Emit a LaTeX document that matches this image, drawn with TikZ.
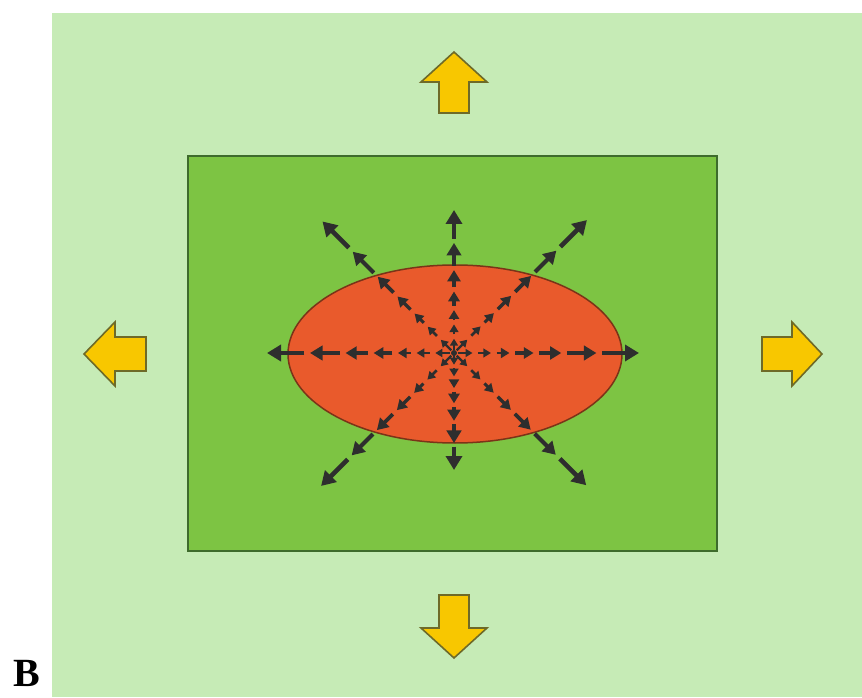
\documentclass[tikz,border=0pt]{standalone}
\usepackage{fontspec}
\setmainfont{Liberation Serif}
\usetikzlibrary{arrows.meta,calc}
\definecolor{bglight}{HTML}{C6EBB6}
\definecolor{boxgreen}{HTML}{7DC443}
\definecolor{boxedge}{HTML}{3E6B2C}
\definecolor{ovalfill}{HTML}{E95A2C}
\definecolor{ovaledge}{HTML}{7A3418}
\definecolor{raycol}{HTML}{2E2E2E}
\definecolor{yel}{HTML}{F8C700}
\definecolor{yeledge}{HTML}{6E6A28}
\tikzset{
  ray/.style={draw=raycol},
  blockarrow/.style={fill=yel,draw=yeledge,line width=1.6pt,line join=miter},
}
\begin{document}
\begin{tikzpicture}[x=1pt,y=1pt]
\useasboundingbox (0,0) rectangle (862,697);
\fill[white] (0,0) rectangle (862,697);
\fill[bglight] (52,0) rectangle (862,684);
\node[font=\bfseries\fontsize{40}{40}\selectfont,inner sep=0pt] (lab) at (27,24) {B};
\draw[fill=boxgreen,draw=boxedge,line width=1.8pt] (188,146) rectangle (717,541);
\draw[fill=ovalfill,draw=ovaledge,line width=1.5pt] (455,343) ellipse [x radius=167, y radius=89];
\coordinate (c) at (454,344);
\fill[raycol] (c) circle (3pt);
\foreach \ang/\len in {0/185,45/188,90/143,135/186,180/187,225/188,270/117,315/187}{
  \foreach \a/\b/\s in {0.02/0.10/0.5,0.13/0.20/0.55,0.23/0.30/0.62,0.33/0.43/0.7,0.46/0.58/0.8,0.61/0.77/0.9,0.80/1.0/1.0}{
    \draw[ray,line width=\s*4.6pt,-{Triangle[length=\s*14pt,width=\s*16pt]}]
      ($(c)+(\ang:\a*\len pt)$) -- ($(c)+(\ang:\b*\len pt)$);
  }
}
% yellow block arrows
\draw[blockarrow] (439,584) -- (469,584) -- (469,615) -- (487,615) -- (454,645) -- (421,615) -- (439,615) -- cycle;
\draw[blockarrow] (439,102) -- (469,102) -- (469,69) -- (487,69) -- (454,39) -- (421,69) -- (439,69) -- cycle;
\draw[blockarrow] (762,326) -- (762,360) -- (792,360) -- (792,375) -- (822,343) -- (792,311) -- (792,326) -- cycle;
\draw[blockarrow] (146,326) -- (146,360) -- (115,360) -- (115,375) -- (84,343) -- (115,311) -- (115,326) -- cycle;
\end{tikzpicture}
\end{document}
